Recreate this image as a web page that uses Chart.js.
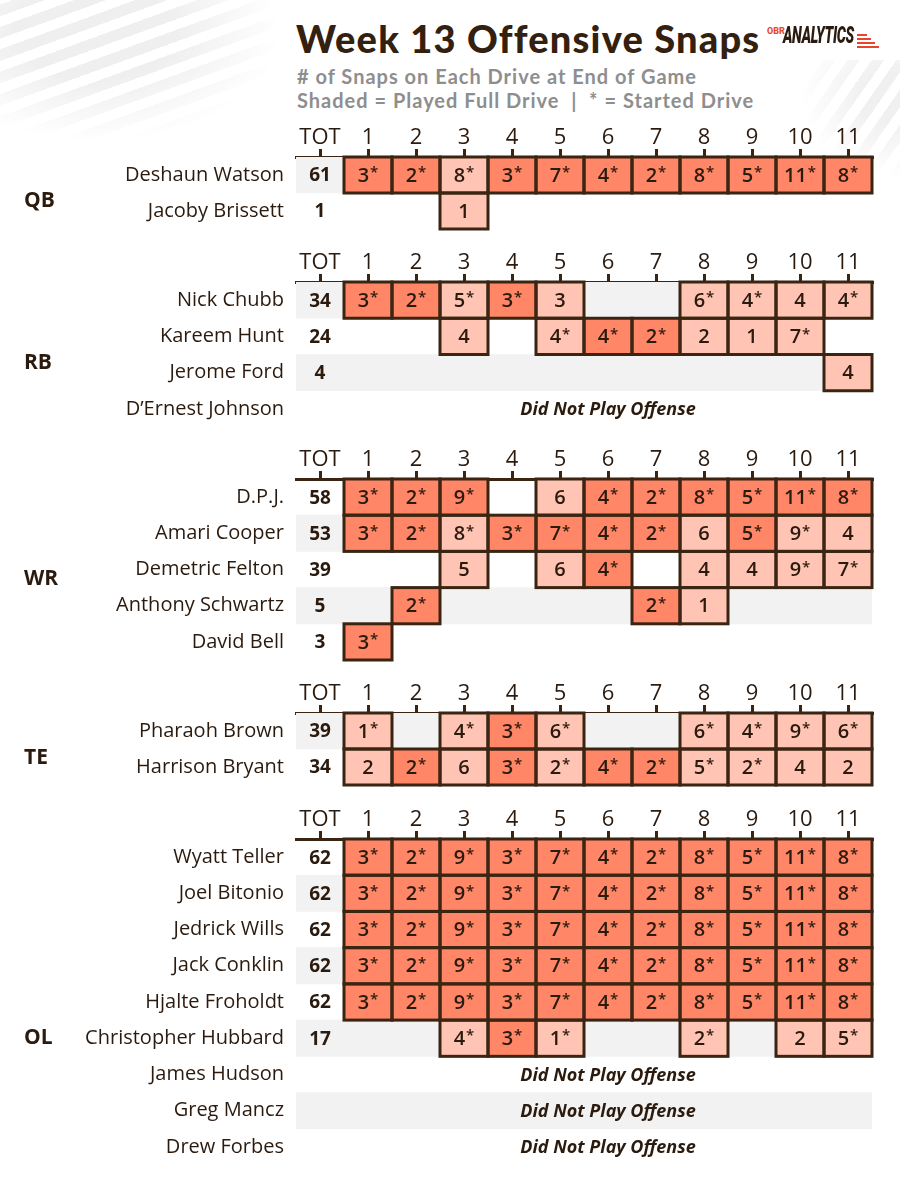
<!DOCTYPE html>
<html>
<head>
<meta charset="utf-8">
<script src="https://cdn.jsdelivr.net/npm/chart.js@4.4.0/dist/chart.umd.min.js"></script>
<style>
  body { margin: 0; background: #fff; }
  #page { position: relative; width: 900px; height: 1200px; overflow: hidden; background: #fff; }
  #page canvas { position: absolute; left: 0; }
  .bg { position: absolute; pointer-events: none; }
  .bgl { left: -20px; top: -10px; width: 330px; height: 170px;
    background: repeating-linear-gradient(-20deg, transparent 0 10px, #efefef 10px 21px);
    -webkit-mask-image: radial-gradient(ellipse 70% 80% at 35% 25%, #000 35%, transparent 80%);
    mask-image: radial-gradient(ellipse 70% 80% at 35% 25%, #000 35%, transparent 80%); }
  .bgr { left: 800px; top: 60px; width: 110px; height: 120px;
    background: repeating-linear-gradient(-55deg, transparent 0 10px, #f0f0f0 10px 20px);
    -webkit-mask-image: radial-gradient(ellipse at 80% 30%, #000 20%, transparent 70%);
    mask-image: radial-gradient(ellipse at 80% 30%, #000 20%, transparent 70%); }
  .title { position: absolute; left: 296px; top: 15px; font: 900 38px Lato, sans-serif; letter-spacing: 1.2px; color: #33200e; white-space: nowrap; }
  .sub { position: absolute; left: 297px; font: 700 20px Lato, sans-serif; letter-spacing: 1px; color: #8e8e8e; white-space: nowrap; }
  .logo { position: absolute; left: 767px; top: 22px; width: 120px; height: 28px; }
  .logo .obr { position: absolute; left: 0; top: 4px; font: 800 9px Roboto, sans-serif; color: #e8452c; }
  .logo .ana { position: absolute; left: 16px; top: 0; font: italic 900 23px Roboto, sans-serif; color: #2b1a0e; transform: scaleX(0.62); transform-origin: left top; letter-spacing: -0.5px; }
  .logo .bar { position: absolute; height: 2px; background: #e8452c; }
</style>
</head>
<body>
<div id="page">
  <div class="bg bgl"></div>
  <div class="bg bgr"></div>
  <div class="title">Week 13 Offensive Snaps</div>
  <div class="sub" style="top:64px">#&nbsp;of Snaps on Each Drive at End of Game</div>
  <div class="sub" style="top:88px">Shaded = Played Full Drive &nbsp;|&nbsp; * = Started Drive</div>
  <div class="logo">
    <span class="obr">OBR</span>
    <span class="ana">ANALYTICS</span>
    <div class="bar" style="left:90px;top:12px;width:10px"></div>
    <div class="bar" style="left:90px;top:16px;width:14px"></div>
    <div class="bar" style="left:90px;top:20px;width:18px"></div>
    <div class="bar" style="left:90px;top:24px;width:22px"></div>
  </div>
</div>
<script>
'use strict';

let colLabels = ['TOT', '1', '2', '3', '4', '5', '6', '7', '8', '9', '10', '11'];
let groupNames = ['QB', 'RB', 'WR', 'TE', 'OL'];
let x = null;

// QB
let qbPlayers = ['Deshaun Watson', 'Jacoby Brissett'];
let qbTotals = [61, 1];
let qbSnaps = [
  [3, 2, 8, 3, 7, 4, 2, 8, 5, 11, 8],
  [x, x, 1, x, x, x, x, x, x, x, x]
];
let qbStarted = [
  [1, 1, 1, 1, 1, 1, 1, 1, 1, 1, 1],
  [0, 0, 0, 0, 0, 0, 0, 0, 0, 0, 0]
];
let qbFull = [
  [1, 1, 0, 1, 1, 1, 1, 1, 1, 1, 1],
  [0, 0, 0, 0, 0, 0, 0, 0, 0, 0, 0]
];
let qbBand = [1, 0];

// RB
let rbPlayers = ['Nick Chubb', 'Kareem Hunt', 'Jerome Ford', 'D\u2019Ernest Johnson'];
let rbTotals = [34, 24, 4, null];
let rbSnaps = [
  [3, 2, 5, 3, 3, x, x, 6, 4, 4, 4],
  [x, x, 4, x, 4, 4, 2, 2, 1, 7, x],
  [x, x, x, x, x, x, x, x, x, x, 4],
  [x, x, x, x, x, x, x, x, x, x, x]
];
let rbStarted = [
  [1, 1, 1, 1, 0, 0, 0, 1, 1, 0, 1],
  [0, 0, 0, 0, 1, 1, 1, 0, 0, 1, 0],
  [0, 0, 0, 0, 0, 0, 0, 0, 0, 0, 0],
  [0, 0, 0, 0, 0, 0, 0, 0, 0, 0, 0]
];
let rbFull = [
  [1, 1, 0, 1, 0, 0, 0, 0, 0, 0, 0],
  [0, 0, 0, 0, 0, 1, 1, 0, 0, 0, 0],
  [0, 0, 0, 0, 0, 0, 0, 0, 0, 0, 0],
  [0, 0, 0, 0, 0, 0, 0, 0, 0, 0, 0]
];
let rbBand = [1, 0, 1, 0];

// WR
let wrPlayers = ['D.P.J.', 'Amari Cooper', 'Demetric Felton', 'Anthony Schwartz', 'David Bell'];
let wrTotals = [58, 53, 39, 5, 3];
let wrSnaps = [
  [3, 2, 9, x, 6, 4, 2, 8, 5, 11, 8],
  [3, 2, 8, 3, 7, 4, 2, 6, 5, 9, 4],
  [x, x, 5, x, 6, 4, x, 4, 4, 9, 7],
  [x, 2, x, x, x, x, 2, 1, x, x, x],
  [3, x, x, x, x, x, x, x, x, x, x]
];
let wrStarted = [
  [1, 1, 1, 0, 0, 1, 1, 1, 1, 1, 1],
  [1, 1, 1, 1, 1, 1, 1, 0, 1, 1, 0],
  [0, 0, 0, 0, 0, 1, 0, 0, 0, 1, 1],
  [0, 1, 0, 0, 0, 0, 1, 0, 0, 0, 0],
  [1, 0, 0, 0, 0, 0, 0, 0, 0, 0, 0]
];
let wrFull = [
  [1, 1, 1, 0, 0, 1, 1, 1, 1, 1, 1],
  [1, 1, 0, 1, 1, 1, 1, 0, 1, 0, 0],
  [0, 0, 0, 0, 0, 1, 0, 0, 0, 0, 0],
  [0, 1, 0, 0, 0, 0, 1, 0, 0, 0, 0],
  [1, 0, 0, 0, 0, 0, 0, 0, 0, 0, 0]
];
let wrBand = [0, 1, 0, 1, 0];

// TE
let tePlayers = ['Pharaoh Brown', 'Harrison Bryant'];
let teTotals = [39, 34];
let teSnaps = [
  [1, x, 4, 3, 6, x, x, 6, 4, 9, 6],
  [2, 2, 6, 3, 2, 4, 2, 5, 2, 4, 2]
];
let teStarted = [
  [1, 0, 1, 1, 1, 0, 0, 1, 1, 1, 1],
  [0, 1, 0, 1, 1, 1, 1, 1, 1, 0, 0]
];
let teFull = [
  [0, 0, 0, 1, 0, 0, 0, 0, 0, 0, 0],
  [0, 1, 0, 1, 0, 1, 1, 0, 0, 0, 0]
];
let teBand = [1, 0];

// OL
let olPlayers = ['Wyatt Teller', 'Joel Bitonio', 'Jedrick Wills', 'Jack Conklin', 'Hjalte Froholdt',
  'Christopher Hubbard', 'James Hudson', 'Greg Mancz', 'Drew Forbes'];
let olTotals = [62, 62, 62, 62, 62, 17, null, null, null];
let olSnaps = [
  [3, 2, 9, 3, 7, 4, 2, 8, 5, 11, 8],
  [3, 2, 9, 3, 7, 4, 2, 8, 5, 11, 8],
  [3, 2, 9, 3, 7, 4, 2, 8, 5, 11, 8],
  [3, 2, 9, 3, 7, 4, 2, 8, 5, 11, 8],
  [3, 2, 9, 3, 7, 4, 2, 8, 5, 11, 8],
  [x, x, 4, 3, 1, x, x, 2, x, 2, 5],
  [x, x, x, x, x, x, x, x, x, x, x],
  [x, x, x, x, x, x, x, x, x, x, x],
  [x, x, x, x, x, x, x, x, x, x, x]
];
let olStarted = [
  [1, 1, 1, 1, 1, 1, 1, 1, 1, 1, 1],
  [1, 1, 1, 1, 1, 1, 1, 1, 1, 1, 1],
  [1, 1, 1, 1, 1, 1, 1, 1, 1, 1, 1],
  [1, 1, 1, 1, 1, 1, 1, 1, 1, 1, 1],
  [1, 1, 1, 1, 1, 1, 1, 1, 1, 1, 1],
  [0, 0, 1, 1, 1, 0, 0, 1, 0, 0, 1],
  [0, 0, 0, 0, 0, 0, 0, 0, 0, 0, 0],
  [0, 0, 0, 0, 0, 0, 0, 0, 0, 0, 0],
  [0, 0, 0, 0, 0, 0, 0, 0, 0, 0, 0]
];
let olFull = [
  [1, 1, 1, 1, 1, 1, 1, 1, 1, 1, 1],
  [1, 1, 1, 1, 1, 1, 1, 1, 1, 1, 1],
  [1, 1, 1, 1, 1, 1, 1, 1, 1, 1, 1],
  [1, 1, 1, 1, 1, 1, 1, 1, 1, 1, 1],
  [1, 1, 1, 1, 1, 1, 1, 1, 1, 1, 1],
  [0, 0, 0, 1, 0, 0, 0, 0, 0, 0, 0],
  [0, 0, 0, 0, 0, 0, 0, 0, 0, 0, 0],
  [0, 0, 0, 0, 0, 0, 0, 0, 0, 0, 0],
  [0, 0, 0, 0, 0, 0, 0, 0, 0, 0, 0]
];
let olBand = [0, 1, 0, 1, 0, 1, 0, 1, 0];

// layout (pixels), kept apart from the data
let axisTops = [157, 282, 479, 713, 839];
let labelTops = [201, 363, 579, 758, 1038];
let rowH = 36.2;
let headH = 46;

let inkColor = '#2b1a0e';
let lineColor = '#3a2513';
let fullColor = '#ff8666';
let partColor = '#ffc4b4';
let bandColor = '#f2f2f2';
let fontName = '"Open Sans", sans-serif';

let groups = [
  { players: qbPlayers, totals: qbTotals, snaps: qbSnaps, started: qbStarted, full: qbFull, band: qbBand },
  { players: rbPlayers, totals: rbTotals, snaps: rbSnaps, started: rbStarted, full: rbFull, band: rbBand },
  { players: wrPlayers, totals: wrTotals, snaps: wrSnaps, started: wrStarted, full: wrFull, band: wrBand },
  { players: tePlayers, totals: teTotals, snaps: teSnaps, started: teStarted, full: teFull, band: teBand },
  { players: olPlayers, totals: olTotals, snaps: olSnaps, started: olStarted, full: olFull, band: olBand }
];

let page = document.getElementById('page');

function makeTextPlugin(g, gi, canvasTop) {
  return {
    id: 'cellText' + gi,
    afterDatasetsDraw(chart) {
      let ctx = chart.ctx;
      let xs = chart.scales.x;
      let ys = chart.scales.y;
      ctx.save();
      // cell outlines, shared between neighbours
      ctx.strokeStyle = lineColor;
      ctx.lineWidth = 3;
      for (let d = 0; d < 11; d++) {
        let meta = chart.getDatasetMeta(d + 1);
        meta.data.forEach(function (bar, p) {
          if (!g.snaps[p][d]) return;
          let pr = bar.getProps(['x', 'y', 'base', 'height'], true);
          let left = Math.min(pr.x, pr.base);
          ctx.strokeRect(left, pr.y - pr.height / 2, Math.abs(pr.x - pr.base), pr.height);
        });
      }
      // numbers in the cells
      ctx.fillStyle = inkColor;
      ctx.textBaseline = 'middle';
      for (let d = 0; d < 11; d++) {
        let meta = chart.getDatasetMeta(d + 1);
        meta.data.forEach(function (bar, p) {
          let v = g.snaps[p][d];
          if (!v) return;
          let pr = bar.getProps(['x', 'y', 'base'], true);
          let cx = (pr.x + pr.base) / 2;
          let num = String(v);
          ctx.font = '600 20px ' + fontName;
          let wNum = ctx.measureText(num).width;
          let wStar = 0;
          if (g.started[p][d]) {
            ctx.font = '600 15px ' + fontName;
            wStar = ctx.measureText('*').width + 1;
          }
          let sx = cx - (wNum + wStar) / 2;
          ctx.textAlign = 'left';
          ctx.font = '600 20px ' + fontName;
          ctx.fillText(num, sx, pr.y + 1);
          if (wStar) {
            ctx.font = '600 15px ' + fontName;
            ctx.fillText('*', sx + wNum + 1, pr.y - 2);
          }
        });
      }
      // totals and did-not-play notes
      ctx.textAlign = 'center';
      g.players.forEach(function (name, p) {
        let y = ys.getPixelForValue(p);
        if (g.totals[p] == null) {
          ctx.font = 'italic 700 18px ' + fontName;
          ctx.fillText('Did Not Play Offense', xs.getPixelForValue(6), y + 1);
        } else {
          ctx.font = '700 19px ' + fontName;
          ctx.fillText(String(g.totals[p]), xs.getPixelForValue(0), y + 1);
        }
      });
      // position label
      ctx.textAlign = 'left';
      ctx.font = '700 21px ' + fontName;
      ctx.fillText(groupNames[gi], 24, labelTops[gi] - canvasTop);
      ctx.restore();
    }
  };
}

function buildChart(g, gi) {
  let n = g.players.length;
  let canvasTop = axisTops[gi] - headH;
  let h = Math.round(headH + n * rowH + 8);
  let canvas = document.createElement('canvas');
  canvas.width = 900;
  canvas.height = h;
  canvas.style.top = canvasTop + 'px';
  page.appendChild(canvas);

  let datasets = [{
    label: 'band',
    data: g.band.map(b => (b ? [-0.5, 11.5] : null)),
    backgroundColor: bandColor,
    borderWidth: 0,
    grouped: false,
    barPercentage: 1,
    categoryPercentage: 1,
    order: 5
  }];
  for (let d = 0; d < 11; d++) {
    datasets.push({
      label: 'Drive ' + colLabels[d + 1],
      data: g.snaps.map(row => (row[d] ? [d + 0.5, d + 1.5] : null)),
      backgroundColor: g.full.map(row => (row[d] ? fullColor : partColor)),
      borderWidth: 0,
      grouped: false,
      barPercentage: 1,
      categoryPercentage: 1,
      order: 1
    });
  }

  // eslint-disable-next-line no-unused-vars
  let chart = new Chart(canvas.getContext('2d'), {
    type: 'bar',
    data: { labels: g.players, datasets: datasets },
    options: {
      indexAxis: 'y',
      responsive: false,
      animation: false,
      devicePixelRatio: 1,
      layout: { padding: { left: 0, right: 28, top: 0, bottom: 8 } },
      plugins: { legend: { display: false }, tooltip: { enabled: false } },
      scales: {
        x: {
          type: 'linear',
          position: 'top',
          min: -0.5,
          max: 11.5,
          afterBuildTicks: function (s) {
            s.ticks = colLabels.map((l, i) => ({ value: i }));
          },
          afterFit: function (s) {
            s.height = headH;
            s.paddingLeft = 0;
            s.paddingRight = 0;
          },
          ticks: {
            autoSkip: false,
            maxRotation: 0,
            padding: -2,
            color: inkColor,
            font: { family: fontName, size: 22, weight: '400' },
            callback: v => colLabels[v]
          },
          grid: { drawOnChartArea: false, drawTicks: true, tickLength: 8, color: lineColor, lineWidth: 3 },
          border: { display: true, color: lineColor, width: 3 }
        },
        y: {
          type: 'category',
          afterFit: function (s) {
            s.width = 296;
            s.paddingTop = 0;
            s.paddingBottom = 0;
          },
          grid: { display: false, drawTicks: false },
          border: { display: false },
          ticks: {
            padding: 12,
            color: inkColor,
            font: { family: fontName, size: 20, weight: '400' }
          }
        }
      }
    },
    plugins: [makeTextPlugin(g, gi, canvasTop)]
  });
}

for (let i = 0; i < groups.length; i++) {
  buildChart(groups[i], i);
}
</script>
</body>
</html>
